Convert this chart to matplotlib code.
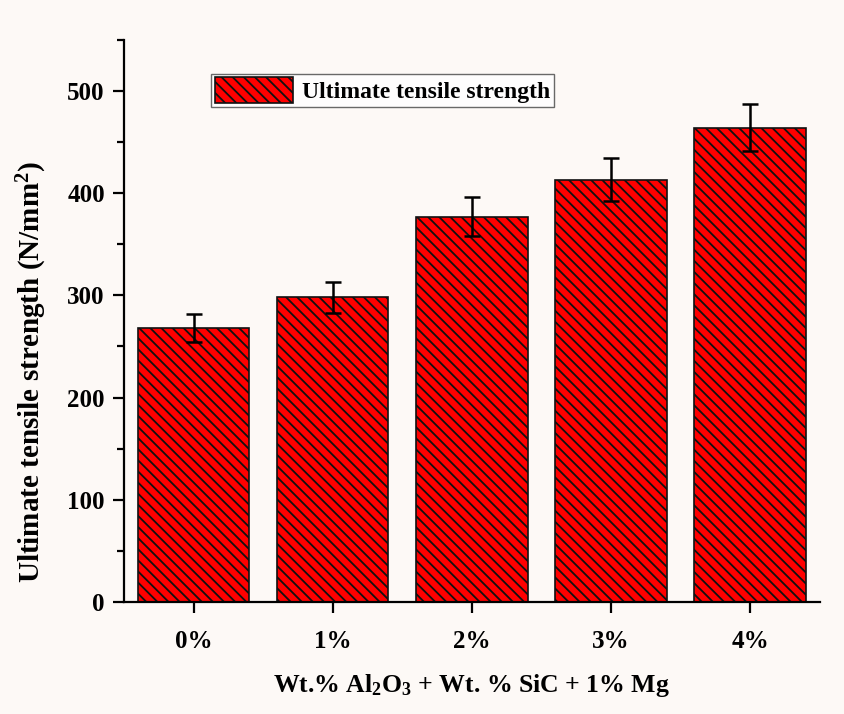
import matplotlib
matplotlib.use("Agg")
import matplotlib.pyplot as plt
from matplotlib.ticker import MultipleLocator
import numpy as np

# data
categories = ["0%", "1%", "2%", "3%", "4%"]
uts = [268, 298, 377, 413, 464]
uts_err = [14, 15, 19, 21, 23]

plt.rcParams['font.family'] = ['Liberation Serif', 'DejaVu Serif']
plt.rcParams['font.weight'] = 'bold'
plt.rcParams['mathtext.fontset'] = 'custom'
plt.rcParams['mathtext.rm'] = 'Liberation Serif:bold'
plt.rcParams['mathtext.bf'] = 'Liberation Serif:bold'
plt.rcParams['mathtext.it'] = 'Liberation Serif:bold'
plt.rcParams['hatch.linewidth'] = 1.3

bg = '#fdf9f6'
fig = plt.figure(figsize=(8.45, 7.14), dpi=100, facecolor=bg)
ax = fig.add_axes([0.147, 0.157, 0.823, 0.787])
ax.set_facecolor(bg)

x = np.arange(len(categories))
ax.bar(x, uts, width=0.8, color='#ff0000', edgecolor='#111111', linewidth=1.2,
       hatch='\\\\\\', label='Ultimate tensile strength')
ax.errorbar(x, uts, yerr=uts_err, fmt='none', ecolor='black', elinewidth=1.8,
            capsize=6, capthick=1.8)

ax.set_xlim(-0.5, 4.5)
ax.set_ylim(0, 550)
ax.set_xticks(x)
ax.set_xticklabels(categories)
ax.yaxis.set_major_locator(MultipleLocator(100))
ax.yaxis.set_minor_locator(MultipleLocator(50))

for s in ['top', 'right']:
    ax.spines[s].set_visible(False)
for s in ['left', 'bottom']:
    ax.spines[s].set_linewidth(1.6)

ax.tick_params(axis='both', which='major', direction='out', length=8, width=1.6,
               labelsize=18, pad=6)
ax.tick_params(axis='y', which='minor', direction='out', length=5, width=1.6)
ax.tick_params(axis='x', pad=12)
for lab in ax.get_xticklabels() + ax.get_yticklabels():
    lab.set_fontweight('bold')

ax.set_ylabel('Ultimate tensile strength (N/mm$^2$)', fontsize=21, fontweight='bold')
ax.yaxis.set_label_coords(-0.108, 0.41)
ax.set_xlabel('Wt.% Al$_2$O$_3$ + Wt. % SiC + 1% Mg', fontsize=18.5, fontweight='bold', labelpad=14)

leg = ax.legend(loc='upper left', bbox_to_anchor=(0.125, 0.94), fontsize=17,
                frameon=True, fancybox=False, edgecolor='#444444',
                handlelength=3.3, handleheight=1.3, borderpad=0.15,
                borderaxespad=0, handletextpad=0.4)
leg.get_frame().set_linewidth(1.0)
leg.get_frame().set_facecolor('white')
for t in leg.get_texts():
    t.set_fontweight('bold')

fig.savefig('out.png', dpi=100, facecolor=bg)
